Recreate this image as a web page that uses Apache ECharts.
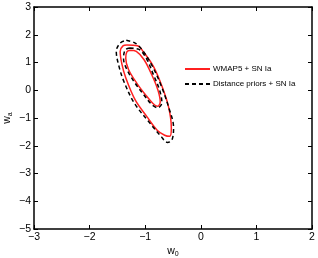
<!DOCTYPE html>
<html><head><meta charset="utf-8">
<script src="https://cdn.jsdelivr.net/npm/echarts@6/dist/echarts.min.js"></script>
<style>html,body{margin:0;padding:0;background:#fff}#c{width:318px;height:258px}</style>
</head><body><div id="c"></div>
<script>
var xTicks = [-3, -2, -1, 0, 1, 2];
var yTicks = [-5, -4, -3, -2, -1, 0, 1, 2, 3];
var seriesNames = ['WMAP5 + SN Ia', 'Distance priors + SN Ia'];
var wmapOuter = [[-1.33,1.63],[-1.14,1.60],[-1.02,1.35],[-0.85,0.85],[-0.70,0.15],[-0.58,-0.6],[-0.53,-1.35],[-0.56,-1.66],[-0.65,-1.62],[-0.78,-1.45],[-0.97,-0.95],[-1.18,-0.35],[-1.35,0.45],[-1.42,0.95],[-1.45,1.40],[-1.40,1.60],[-1.33,1.63]];
var wmapInner = [[-1.27,1.44],[-1.16,1.40],[-1.02,1.10],[-0.88,0.55],[-0.77,0.0],[-0.73,-0.42],[-0.78,-0.58],[-0.86,-0.48],[-1.00,-0.15],[-1.15,0.25],[-1.30,0.75],[-1.35,1.15],[-1.33,1.38],[-1.27,1.44]];
var distOuter = [[-1.34,1.80],[-1.18,1.70],[-1.05,1.45],[-0.88,0.9],[-0.72,0.2],[-0.58,-0.6],[-0.49,-1.35],[-0.52,-1.80],[-0.60,-1.88],[-0.72,-1.65],[-0.95,-1.1],[-1.20,-0.45],[-1.38,0.3],[-1.47,0.85],[-1.52,1.40],[-1.45,1.70],[-1.34,1.80]];
var distInner = [[-1.28,1.52],[-1.12,1.48],[-0.98,1.15],[-0.85,0.55],[-0.74,0.0],[-0.70,-0.45],[-0.77,-0.63],[-0.88,-0.52],[-1.03,-0.15],[-1.18,0.25],[-1.33,0.75],[-1.39,1.15],[-1.36,1.45],[-1.28,1.52]];

var font = 'Liberation Sans, Arial, sans-serif';
function fmt(v){ return String(v).replace('-', '\u2212'); }
function axisBase(pos, show, isX){
  var t = isX ? xTicks : yTicks;
  return {
    type: 'value', position: pos,
    min: t[0], max: t[t.length-1], interval: 1,
    nameMoveOverlap: false,
    axisLine: {show: true, onZero: false, lineStyle: {color: '#000', width: 1.5}},
    axisTick: {show: true, inside: true, length: 4, lineStyle: {color: '#000', width: 1}},
    axisLabel: {show: show, color: '#000', fontSize: 10.5, fontFamily: font, margin: 3, formatter: fmt},
    splitLine: {show: false}
  };
}
var xA = axisBase('bottom', true, true);
xA.name = '{b|w}{s|0}'; xA.nameLocation = 'middle'; xA.nameGap = 15;
xA.nameTextStyle = {rich: {b: {fontSize: 10.5, fontFamily: font, color: '#000'}, s: {fontSize: 7, fontFamily: font, color: '#000', padding: [7,0,0,0]}}};
var xT = axisBase('top', false, true);
var yA = axisBase('left', true, false);
yA.name = '{b|w}{s|a}'; yA.nameLocation = 'middle'; yA.nameGap = 20; yA.nameRotate = 90;
yA.nameTextStyle = {rich: {b: {fontSize: 10.5, fontFamily: font, color: '#000'}, s: {fontSize: 7, fontFamily: font, color: '#000', padding: [7,0,0,0]}}};
var yR = axisBase('right', false, false);

function ser(name, data, color, type){
  return {name: name, type: 'line', data: data, smooth: 0.35, symbol: 'none', silent: true,
    xAxisIndex: 0, yAxisIndex: 0,
    lineStyle: {color: color, width: 1.5, type: type}, itemStyle: {color: color}};
}
var chart = echarts.init(document.getElementById('c'), null, {renderer: 'canvas'});
chart.setOption({
  animation: false,
  grid: {left: 34, right: 6, top: 7, bottom: 29, show: false, containLabel: false, outerBoundsMode: 'none'},
  xAxis: [xA, xT],
  yAxis: [yA, yR],
  legend: {
    data: [seriesNames[0], seriesNames[1]],
    orient: 'vertical', left: 184, top: 65, padding: 0, itemGap: 7, itemWidth: 25, itemHeight: 8,
    itemStyle: {opacity: 0},
    textStyle: {fontSize: 8, fontFamily: font, color: '#000', padding: [0,0,0,-2]},
    selectedMode: false
  },
  series: [
    ser(seriesNames[0], wmapOuter, '#ff2020', 'solid'),
    ser(seriesNames[0], wmapInner, '#ff2020', 'solid'),
    ser(seriesNames[1], distOuter, '#000', [4,3]),
    ser(seriesNames[1], distInner, '#000', [4,3])
  ]
});
</script></body></html>
